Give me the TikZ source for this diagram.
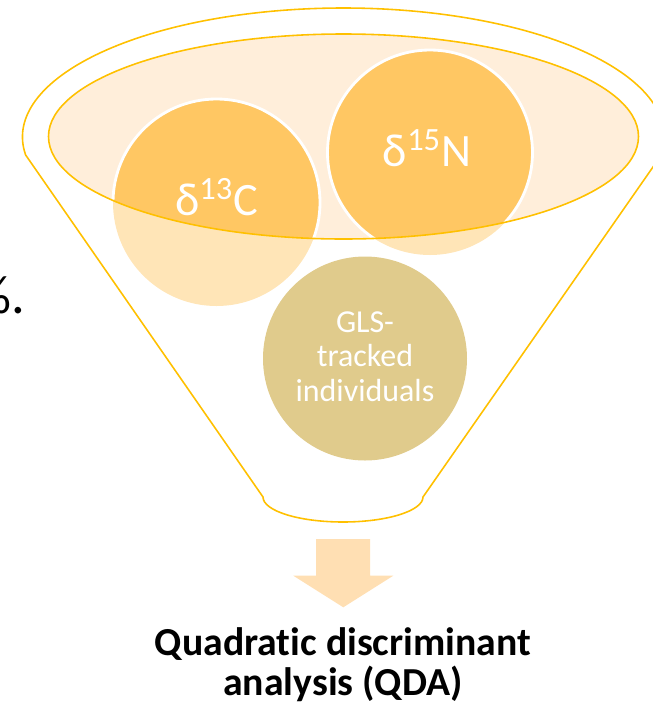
\documentclass[tikz,border=0pt]{standalone}
\usepackage{fontspec}
\setmainfont{Carlito}[Ligatures=NoCommon]
\usepackage{tikz}
\usetikzlibrary{positioning}
\definecolor{funnelgold}{RGB}{255,192,0}
\definecolor{rimfill}{RGB}{255,238,218}
\definecolor{dropdark}{RGB}{255,199,99}
\definecolor{droplight}{RGB}{255,229,183}
\definecolor{khaki}{RGB}{224,203,140}
\definecolor{arrowpeach}{RGB}{255,223,179}

\begin{document}
\begin{tikzpicture}[
  x=0.02cm, y=-0.02cm,
  rim/.style={draw=funnelgold, line width=0.9pt},
  isotext/.style={text=white, font=\fontsize{26.4}{30}\selectfont,
                  inner sep=0pt, anchor=base},
  glstext/.style={text=white, font=\fontsize{18.2}{19.8}\selectfont,
                  align=center, inner sep=0pt, anchor=base},
  result/.style={font=\fontsize{22.6}{22.7}\selectfont\bfseries,
                 align=center, inner sep=0pt, anchor=base},
]
\useasboundingbox (0,0) rectangle (653,704);
\clip (0,0) rectangle (653,704);

% Funnel body
\draw[rim] (343.5,137) ++(172:321 and 129)
  arc[start angle=172, end angle=368, x radius=321, y radius=129]
  -- (423,497) arc[start angle=0, end angle=180, x radius=80, y radius=25]
  -- cycle;

% Funnel mouth
\fill[rimfill] (343.5,136.5) ellipse[x radius=295, y radius=102.5];

% Drops
\coordinate (c13) at (216.5,202.5);
\coordinate (n15) at (430,152.5);
\coordinate (gls) at (365,358.5);
\fill[droplight] (c13) circle[radius=103.5];
\fill[droplight] (n15) circle[radius=102.5];
\begin{scope}
  \clip (343.5,136.5) ellipse[x radius=295, y radius=102.5];
  \filldraw[fill=dropdark, draw=white, line width=1.6pt] (c13) circle[radius=103.5];
  \filldraw[fill=dropdark, draw=white, line width=1.6pt] (n15) circle[radius=102.5];
\end{scope}
\fill[khaki] (gls) circle[radius=102];
\draw[rim] (343.5,136.5) ellipse[x radius=295, y radius=102.5];

% Labels
\node[isotext] (carbon) at (216.5,215) {δ\textsuperscript{13}C};
\node[isotext] (nitrogen) at (427,166) {δ\textsuperscript{15}N};
\node[glstext] (tracked) at (365,401.7) {GLS-\\tracked\\individuals};
\node[anchor=base east, inner sep=0pt, font=\fontsize{31}{34}\selectfont]
  (pct) at (25.5,313) {\%.};

% Output arrow
\fill[arrowpeach] (316,539) -- (370,539) -- (370,575.7) -- (393.3,575.7)
  -- (343.3,607.3) -- (293.3,575.7) -- (316,575.7) -- cycle;

\node[result] (qda) at (343,695)
  {Quadratic discriminant\\analysis (QDA)};

\end{tikzpicture}
\end{document}
